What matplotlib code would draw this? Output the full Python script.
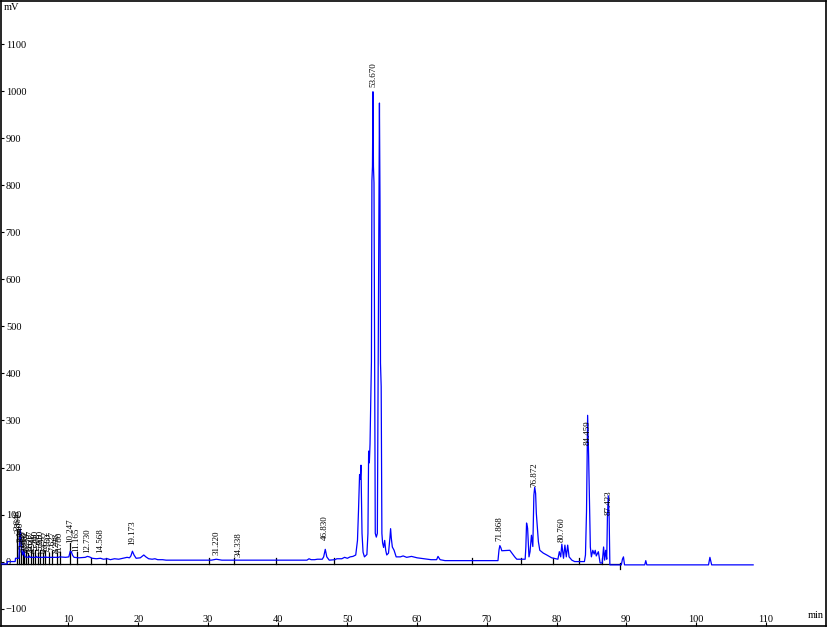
import matplotlib.pyplot as plt

# chromatogram trace (time in min, signal in mV)
time_min = [0.32, 1.20, 1.25, 2.35, 2.40, 2.90, 3.00, 3.08, 3.16, 3.24, 3.32, 3.42, 3.52, 3.60,
            3.68, 3.76, 4.30, 4.40, 4.50, 5.30, 5.40, 5.50, 6.60, 6.70, 6.80, 8.60, 8.70, 9.60,
            10.05, 10.25, 10.40, 10.60, 10.80, 11.50, 12.40, 12.70, 13.00, 13.40, 14.00, 14.60,
            15.00, 15.60, 16.00, 16.60, 17.20, 17.80, 18.40, 18.75, 18.95, 19.17, 19.40, 19.70,
            20.30, 20.80, 21.10, 21.50, 22.00, 22.40, 22.80, 23.50, 24.00, 30.50, 31.20, 32.00,
            44.20, 44.50, 44.80, 45.30, 45.70, 46.40, 46.60, 46.83, 47.05, 47.40, 48.20, 48.50,
            49.20, 49.60, 50.00, 50.40, 50.80, 51.20, 51.45, 51.60, 51.75, 51.85, 51.95, 52.10,
            52.25, 52.45, 52.80, 52.95, 53.05, 53.15, 53.25, 53.45, 53.52, 53.60, 53.67, 53.74,
            53.82, 54.00, 54.15, 54.30, 54.42, 54.52, 54.60, 54.68, 54.75, 54.85, 54.95, 55.05,
            55.20, 55.35, 55.50, 55.65, 55.90, 56.10, 56.20, 56.30, 56.45, 56.70, 57.00, 57.60,
            58.00, 58.50, 59.20, 60.00, 61.00, 62.00, 62.80, 63.00, 63.30, 64.00, 71.60, 71.75,
            71.87, 72.00, 72.15, 73.30, 73.60, 74.00, 74.30, 75.50, 75.60, 75.70, 75.85, 76.05,
            76.20, 76.40, 76.60, 76.75, 76.87, 77.00, 77.10, 77.40, 77.60, 78.10, 78.60, 79.30,
            80.20, 80.40, 80.60, 80.76, 81.00, 81.20, 81.40, 81.60, 81.80, 82.20, 82.60, 84.00,
            84.15, 84.30, 84.46, 84.60, 84.75, 84.85, 85.00, 85.20, 85.40, 85.55, 85.70, 86.00,
            86.25, 86.55, 86.75, 86.90, 87.05, 87.20, 87.30, 87.42, 87.55, 87.65, 89.30, 89.45,
            89.60, 89.75, 92.65, 92.80, 92.95, 101.80, 102.00, 102.25, 108.20]
signal_mv = [-5, -5, 0, 0, 7, 7, 45, 69, 60, 30, 22, 14, 20, 24,
             15, 10, 9, 12, 9, 9, 11, 9, 9, 11, 9, 9, 10, 9,
             10, 22, 21, 13, 9, 8, 9, 11, 10, 7, 6, 7,
             5, 6, 4, 6, 5, 7, 9, 8, 12, 22, 14, 7,
             8, 14, 10, 6, 5, 6, 4, 4, 3, 3, 5, 3,
             3, 6, 4, 4, 5, 5, 10, 26, 10, 3, 4, 6,
             6, 9, 7, 10, 11, 14, 45, 110, 185, 175, 205, 60,
             20, 10, 15, 60, 235, 210, 250, 425, 810, 840, 999, 840,
             805, 60, 52, 60, 425, 760, 975, 765, 422, 372, 60, 40,
             30, 45, 24, 14, 18, 50, 70, 50, 31, 24, 10, 10,
             12, 9, 11, 8, 6, 4, 4, 11, 4, 2, 2, 25,
             34, 30, 23, 24, 18, 10, 5, 5, 31, 82, 71, 10,
             21, 56, 32, 141, 158, 145, 103, 42, 24, 18, 14, 8,
             5, 21, 10, 37, 7, 35, 10, 35, 10, 3, 0, 0,
             14, 106, 311, 226, 106, 31, 10, 24, 16, 24, 12, 21,
             -3, -3, 31, 3, 24, 5, 95, 140, 92, -7, -7, 5,
             10, -7, -7, 2, -7, -7, 9, -7, -7]

# integration baseline and its boundary ticks
baseline_mv = -6
baseline_end = 89.1
boundary_ticks = [13.2, 15.4, 30.2, 33.8, 39.7, 48.1, 67.9, 74.95, 79.5, 83.2, 86.45]

# peak labels (retention time) and height of the label foot in mV
peak_labels = ['2.648', '2.861', '3.140', '3.427', '3.658', '3.902', '4.233', '4.617', '4.948',
               '5.240', '5.583', '5.910', '6.297', '6.672', '7.160', '7.627', '8.298', '8.780',
               '10.247', '11.165', '12.730', '14.568', '19.173', '31.220', '34.338', '46.830',
               '53.670', '71.868', '76.872', '80.760', '84.459', '87.423']
label_foot = [67, 60, 42, 26, 20, 24, 19, 24, 19, 24, 19, 24, 19, 22, 18, 22, 18, 20,
              39, 20, 18, 18, 35, 14, 10, 46, 1009, 44, 159, 41, 248, 99]

font = 'Liberation Serif'

fig = plt.figure(figsize=(8.27, 6.27), dpi=100)
ax = fig.add_axes([1 / 827, 1 / 627, 825 / 827, 625 / 627])

ax.plot(time_min, signal_mv, color='#0000ff', lw=0.9, zorder=3)
ax.plot([0.32, baseline_end], [baseline_mv, baseline_mv], color='black', lw=0.9, zorder=2)
for t in boundary_ticks:
    ax.plot([t, t], [baseline_mv, baseline_mv + 13], color='black', lw=0.9, zorder=2)
ax.plot([baseline_end, baseline_end], [-15, -2], color='black', lw=0.9, zorder=2)

for lab, foot in zip(peak_labels, label_foot):
    rt = float(lab)
    if rt < 12:
        # leader line from the baseline up to the label
        ax.plot([rt, rt], [baseline_mv, foot], color='black', lw=0.9, zorder=2)
    ax.text(rt, foot, lab, rotation=90, ha='center', va='bottom', fontsize=6.5,
            family=font, color='black', zorder=4)

ax.set_xlim(0.32, 118.65)
ax.set_ylim(-137, 1192)
ax.set_xticks(range(10, 111, 10))
ax.set_yticks(range(-100, 1101, 100))

ax.tick_params(axis='y', direction='in', length=2.5, width=0.8, pad=-3.5, labelsize=7.5)
ax.tick_params(axis='x', direction='in', length=3, width=0.8, pad=-1.5, labelsize=7.5)
for lab in ax.get_yticklabels():
    lab.set_horizontalalignment('left')
    lab.set_family(font)
for lab in ax.get_xticklabels():
    lab.set_verticalalignment('bottom')
    lab.set_family(font)

for sp in ax.spines.values():
    sp.set_linewidth(1.2)

ax.text(0.003, 0.997, 'mV', transform=ax.transAxes, ha='left', va='top',
        fontsize=7.5, family=font)
ax.text(0.9976, 0.016, 'min', transform=ax.transAxes, ha='right', va='center',
        fontsize=7.5, family=font)

fig.savefig('out.png', dpi=100)
